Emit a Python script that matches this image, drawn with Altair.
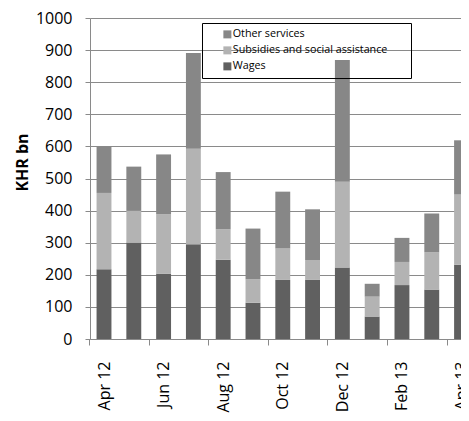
import altair as alt
import pandas as pd

months = ["Apr 12", "May 12", "Jun 12", "Jul 12", "Aug 12", "Sep 12", "Oct 12",
          "Nov 12", "Dec 12", "Jan 13", "Feb 13", "Mar 13", "Apr 13"]
wages = [217, 301, 203, 295, 247, 113, 184, 184, 223, 70, 168, 154, 231]
subsidies = [238, 98, 186, 298, 95, 73, 98, 62, 267, 62, 72, 116, 219]
other = [145, 138, 186, 298, 178, 158, 177, 158, 379, 40, 75, 121, 169]

series = ["Other services", "Subsidies and social assistance", "Wages"]
colors = ["#878787", "#b3b3b3", "#606060"]
y_ticks = list(range(0, 1001, 100))

rows = []
for i, m in enumerate(months):
    rows.append({"month": m, "series": "Wages", "value": wages[i], "ord": 0})
    rows.append({"month": m, "series": "Subsidies and social assistance", "value": subsidies[i], "ord": 1})
    rows.append({"month": m, "series": "Other services", "value": other[i], "ord": 2})
df = pd.DataFrame(rows)

FONT = "Open Sans"
STEP_QUARTER = 7.45  # quarter of the band step: puts ticks midway between bars

chart = alt.Chart(df).mark_bar().encode(
    x=alt.X("month:N", sort=months,
            scale=alt.Scale(paddingInner=0.5, paddingOuter=0.11, align=1, range=[0, 379]),
            axis=alt.Axis(values=months[::2], labelAngle=270, bandPosition=0,
                          tickOffset=-STEP_QUARTER, labelOffset=STEP_QUARTER,
                          title=None, grid=False, tickSize=6, labelPadding=16,
                          labelFont=FONT, labelFontSize=16, labelColor="black",
                          domainColor="#8a8a8a", tickColor="#8a8a8a")),
    y=alt.Y("value:Q", stack="zero",
            scale=alt.Scale(domain=[0, 1000], nice=False),
            axis=alt.Axis(values=y_ticks, format="d", title="KHR bn", grid=True,
                          gridColor="#8a8a8a", tickSize=5, labelPadding=13,
                          labelFont=FONT, labelFontSize=16, labelColor="black",
                          domainColor="#8a8a8a", tickColor="#8a8a8a",
                          titleFont=FONT, titleFontSize=16, titleFontWeight="bold",
                          titleColor="black", titleX=-63, titleY=144,
                          titleBaseline="alphabetic", titleAngle=270)),
    color=alt.Color("series:N",
                    scale=alt.Scale(domain=series, range=colors),
                    legend=alt.Legend(orient="none", legendX=112, legendY=5,
                                      title=" ", titleOrient="right", titleFontSize=1,
                                      titlePadding=18,
                                      strokeColor="black", padding=6, symbolType="square",
                                      symbolSize=64, symbolStrokeWidth=0,
                                      symbolOffset=14, labelOffset=0,
                                      labelFont=FONT, labelFontSize=10.75,
                                      labelColor="black", rowPadding=4,
                                      labelLimit=300)),
    order=alt.Order("ord:Q", sort="ascending"),
).properties(
    width=371, height=321,
    autosize=alt.AutoSizeParams(type="none"),
    padding={"left": 82, "top": 10, "right": 0, "bottom": 74},
).configure_view(stroke=None)

chart.save("out.html", embed_options={"renderer": "svg", "actions": False})
